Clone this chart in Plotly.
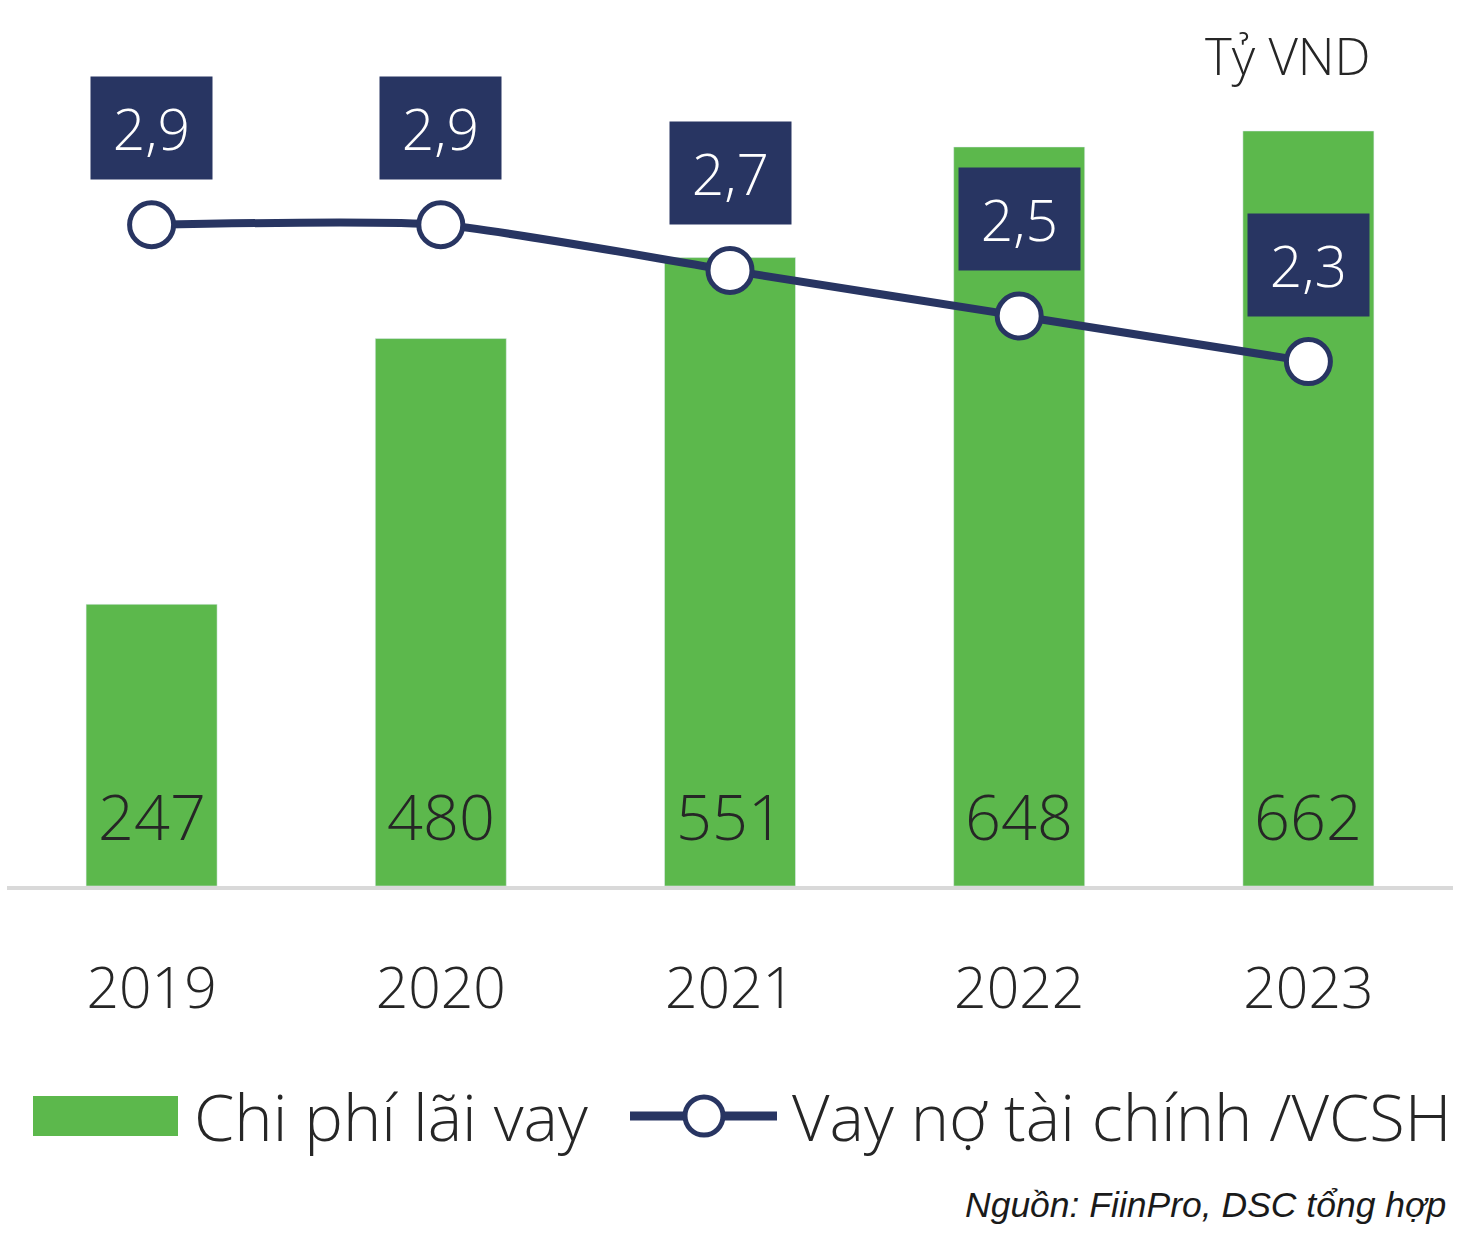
import plotly.graph_objects as go

years = ["2019", "2020", "2021", "2022", "2023"]
interest_cost = [247, 480, 551, 648, 662]
debt_equity = [2.9, 2.9, 2.7, 2.5, 2.3]
debt_labels = ["2,9", "2,9", "2,7", "2,5", "2,3"]

GREEN = "#5CB84C"
NAVY = "#283562"
TXT = "#262626"
FONT = "Open Sans"

W, H = 1476, 1249
ML, MR, MT, MB = 7, 23, 40, 363
PW = W - ML - MR
PH = H - MT - MB


def px(x):
    return (x - ML) / PW


def py(y):
    return (H - MB - y) / PH


fig = go.Figure()
fig.add_trace(go.Bar(
    x=years, y=interest_cost, marker_color=GREEN, width=0.453,
    name="Chi phí lãi vay", showlegend=False, hoverinfo="skip",
))
fig.add_trace(go.Scatter(
    x=years, y=debt_equity, yaxis="y2", mode="lines+markers",
    line=dict(color=NAVY, width=8, shape="spline", smoothing=0.6),
    marker=dict(size=44, color="white", line=dict(color=NAVY, width=5)),
    name="Vay nợ tài chính /VCSH", showlegend=False, hoverinfo="skip",
))

ann = []
for i, v in enumerate(interest_cost):
    ann.append(dict(x=i, y=0, xref="x", yref="y", yshift=71, text=str(v),
                    showarrow=False,
                    font=dict(family=FONT, size=63, color=TXT, weight=300)))
for i, (v, lab) in enumerate(zip(debt_equity, debt_labels)):
    ann.append(dict(x=i, y=v, xref="x", yref="y2", yshift=97, text=lab,
                    showarrow=False, bgcolor=NAVY, width=121, height=102,
                    borderpad=0, valign="middle",
                    font=dict(family=FONT, size=57, color="white", weight=300)))

ann.append(dict(x=px(1373), y=py(55), xref="paper", yref="paper", xanchor="right",
                yanchor="middle", text="Tỷ VND", showarrow=False,
                font=dict(family=FONT, size=51, color=TXT, weight=300)))
# legend texts
ann.append(dict(x=px(192), y=py(1116), xref="paper", yref="paper", xanchor="left",
                yanchor="middle", text="Chi phí lãi vay", showarrow=False,
                font=dict(family=FONT, size=65, color=TXT, weight=300)))
ann.append(dict(x=px(790), y=py(1116), xref="paper", yref="paper", xanchor="left",
                yanchor="middle", text="Vay nợ tài chính /VCSH", showarrow=False,
                font=dict(family=FONT, size=65, color=TXT, weight=300)))
ann.append(dict(x=px(1448), y=py(1205), xref="paper", yref="paper", xanchor="right",
                yanchor="middle", text="<i>Nguồn: FiinPro, DSC tổng hợp</i>", showarrow=False,
                font=dict(family="Liberation Sans", size=35.5, color="#1a1a1a")))

shapes = [
    dict(type="rect", xref="paper", yref="paper", x0=px(33), x1=px(178),
         y0=py(1136), y1=py(1096), fillcolor=GREEN, line=dict(width=0)),
    dict(type="line", xref="paper", yref="paper", x0=px(630), x1=px(777),
         y0=py(1116), y1=py(1116), line=dict(color=NAVY, width=9)),
    dict(type="circle", xref="paper", yref="paper", x0=px(685), x1=px(723),
         y0=py(1135), y1=py(1097), fillcolor="white", line=dict(color=NAVY, width=5)),
]

fig.update_layout(
    width=W, height=H, margin=dict(l=ML, r=MR, t=MT, b=MB),
    paper_bgcolor="white", plot_bgcolor="white",
    annotations=ann, shapes=shapes, showlegend=False,
    xaxis=dict(type="category", range=[-0.5, 4.5], showgrid=False, zeroline=False,
               showline=True, linecolor="#D9D9D9", linewidth=4, ticks="",
               tickfont=dict(family=FONT, size=57, color=TXT, weight=300),
               ticklabelstandoff=50),
    yaxis=dict(range=[0, PH / 1.1405], visible=False, showgrid=False, zeroline=False),
    yaxis2=dict(range=[0, PH / 228], visible=False, overlaying="y", showgrid=False,
                zeroline=False),
    bargap=0.5,
)

fig.write_html("out.html", config={"displayModeBar": False},
               post_script="document.body.style.margin='0';document.body.style.padding='0';")
